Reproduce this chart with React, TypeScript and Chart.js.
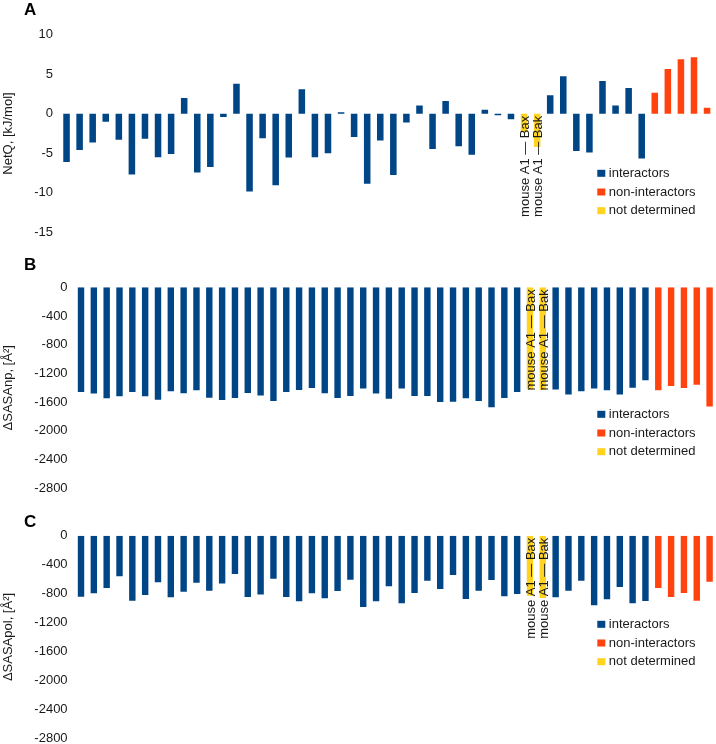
import React, { useEffect, useRef } from "react";
import { Chart, registerables } from "chart.js";

Chart.register(...registerables);

const FONT = "'Liberation Sans', Arial, Helvetica, sans-serif";
const TEXT = "#1a1a1a";

// Categories: only the two "not determined" complexes are labelled in the figure
const categories: string[] = [
  ...Array(35).fill(""),
  "mouse A1 — Bax",
  "mouse A1 — Bak",
  ...Array(13).fill(""),
];

// group of every complex, in order
const groupRuns: [string, number][] = [
  ["interactors", 35],
  ["not determined", 2],
  ["interactors", 8],
  ["non-interactors", 5],
];

const seriesNames = ["interactors", "non-interactors", "not determined"];
const seriesColors = ["#004586", "#ff420e", "#ffd320"];

// Panel A: NetQ [kJ/mol]
const netQ = [
  -6.1, -4.6, -3.65, -1.0, -3.3, -7.7, -3.15, -5.5, -5.1, 2.0,
  -7.45, -6.75, -0.4, 3.8, -9.85, -3.1, -9.05, -5.55, 3.1, -5.5,
  -5.0, 0.2, -2.95, -8.85, -3.4, -7.75, -1.1, 1.05, -4.45, 1.6,
  -4.1, -5.2, 0.5, -0.2, -0.7, -2.3, -4.2, 2.35, 4.75, -4.7,
  -4.9, 4.15, 1.05, 3.25, -5.65, 2.65, 5.65, 6.9, 7.15, 0.75,
];

// Panel B: ΔSASAnp [Å²]
const dSASAnp = [
  -1458, -1481, -1546, -1518, -1458, -1518, -1565, -1449, -1476, -1435,
  -1537, -1569, -1541, -1472, -1509, -1583, -1458, -1430, -1402, -1476,
  -1541, -1514, -1411, -1481, -1551, -1411, -1514, -1514, -1597, -1593,
  -1546, -1583, -1671, -1541, -1458, -1420, -1430, -1425, -1495, -1449,
  -1411, -1435, -1495, -1398, -1295, -1435, -1374, -1402, -1356, -1662,
];

// Panel C: ΔSASApol [Å²]
const dSASApol = [
  -843, -797, -723, -562, -898, -820, -645, -852, -774, -649,
  -760, -659, -530, -847, -811, -594, -847, -907, -797, -866,
  -764, -608, -985, -907, -700, -935, -792, -622, -737, -543,
  -875, -760, -612, -838, -806, -830, -860, -852, -760, -622,
  -962, -880, -709, -935, -903, -723, -847, -792, -898, -636,
];

const yTicksA = { min: -15, max: 10, step: 5 };
const yTicksSASA = { min: -2800, max: 0, step: 400 };

const groupOf: string[] = groupRuns.flatMap(([g, n]) => Array(n).fill(g));

const panelLegend = {
  id: "panelLegend",
  afterDraw(chart: any, _args: any, opts: any) {
    const ctx = chart.ctx;
    ctx.save();
    ctx.font = `13px ${FONT}`;
    ctx.textBaseline = "middle";
    ctx.textAlign = "left";
    chart.data.datasets.forEach((ds: any, i: number) => {
      const y = opts.top + i * opts.gap;
      ctx.fillStyle = ds.backgroundColor;
      ctx.fillRect(opts.left, y - 3.5, 8, 7);
      ctx.fillStyle = TEXT;
      ctx.fillText(ds.label, opts.left + 11.5, y);
    });
    ctx.restore();
  },
};

const barLabels = {
  id: "barLabels",
  afterDatasetsDraw(chart: any) {
    const xs = chart.scales.x;
    const ys = chart.scales.y;
    const y0 = ys.getPixelForValue(0);
    const ctx = chart.ctx;
    ctx.save();
    ctx.font = `13px ${FONT}`;
    ctx.fillStyle = TEXT;
    ctx.textAlign = "right";
    ctx.textBaseline = "middle";
    (chart.data.labels as string[]).forEach((lab, i) => {
      if (!lab) return;
      const px = xs.getPixelForValue(i);
      ctx.save();
      ctx.translate(px + 1.5, y0 + 2);
      ctx.rotate(-Math.PI / 2);
      ctx.fillText(lab, 0, 0);
      ctx.restore();
    });
    ctx.restore();
  },
};

type PanelCfg = {
  values: number[];
  title: string;
  ticks: { min: number; max: number; step: number };
  top: number;
  height: number;
  padTop: number;
  padBottom: number;
  padRight: number;
  axisWidth: number;
  legendTop: number;
};

function Panel({ cfg }: { cfg: PanelCfg }) {
  const ref = useRef<HTMLCanvasElement>(null);
  useEffect(() => {
    const canvas = ref.current!;
    const datasets = seriesNames.map((name, k) => ({
      label: name,
      data: cfg.values.map((v, i) => (groupOf[i] === name ? v : null)),
      backgroundColor: seriesColors[k],
      borderWidth: 0,
      barPercentage: 0.5,
      categoryPercentage: 1,
    }));
    const chart = new Chart(canvas, {
      type: "bar",
      data: { labels: categories, datasets },
      options: {
        responsive: false,
        animation: false,
        devicePixelRatio: 1,
        layout: {
          padding: { top: cfg.padTop, bottom: cfg.padBottom, left: 0, right: cfg.padRight },
        },
        plugins: {
          legend: { display: false },
          tooltip: { enabled: false },
          panelLegend: { left: 597.3, top: cfg.legendTop, gap: 18.7 },
        } as any,
        scales: {
          x: { display: false, stacked: true, offset: true },
          y: {
            stacked: true,
            min: cfg.ticks.min,
            max: cfg.ticks.max,
            grid: { display: false, drawTicks: false },
            border: { display: false },
            ticks: {
              stepSize: cfg.ticks.step,
              padding: 7,
              color: TEXT,
              font: { family: FONT, size: 13 },
              callback: (v: any) => String(v),
            },
            title: {
              display: true,
              text: cfg.title,
              color: TEXT,
              font: { family: FONT, size: 13 },
              padding: { top: 1, bottom: 0 },
            },
            afterFit: (scale: any) => {
              scale.width = cfg.axisWidth;
              scale.paddingTop = 0;
              scale.paddingBottom = 0;
            },
          },
        },
      },
      plugins: [barLabels, panelLegend],
    });
    return () => chart.destroy();
  }, []);
  return (
    <canvas
      ref={ref}
      width={716}
      height={cfg.height}
      style={{ position: "absolute", left: 0, top: cfg.top, width: 716, height: cfg.height }}
    />
  );
}

const panels: PanelCfg[] = [
  {
    values: netQ, title: "NetQ, [kJ/mol]", ticks: yTicksA,
    top: 0, height: 250, padTop: 34.7, padBottom: 17.7, padRight: 2.4, axisWidth: 60, legendTop: 173.3,
  },
  {
    values: dSASAnp, title: "ΔSASAnp, [Å²]", ticks: yTicksSASA,
    top: 250, height: 250, padTop: 37.3, padBottom: 11.7, padRight: 0, axisWidth: 74.6, legendTop: 164.3,
  },
  {
    values: dSASApol, title: "ΔSASApol, [Å²]", ticks: yTicksSASA,
    top: 500, height: 244, padTop: 35.7, padBottom: 5.7, padRight: 0, axisWidth: 74.6, legendTop: 124.3,
  },
];

const letters = [
  { t: "A", top: 0 },
  { t: "B", top: 254.5 },
  { t: "C", top: 511.5 },
];

export default function App() {
  return (
    <div
      style={{
        position: "absolute", left: 0, top: 0, width: 716, height: 744,
        overflow: "hidden", background: "#ffffff",
      }}
    >
      {panels.map((p, i) => (
        <Panel key={i} cfg={p} />
      ))}
      {letters.map((l) => (
        <div
          key={l.t}
          style={{
            position: "absolute", left: 24, top: l.top, fontFamily: FONT,
            fontWeight: "bold", fontSize: 17, lineHeight: "20px", color: "#000",
          }}
        >
          {l.t}
        </div>
      ))}
    </div>
  );
}
